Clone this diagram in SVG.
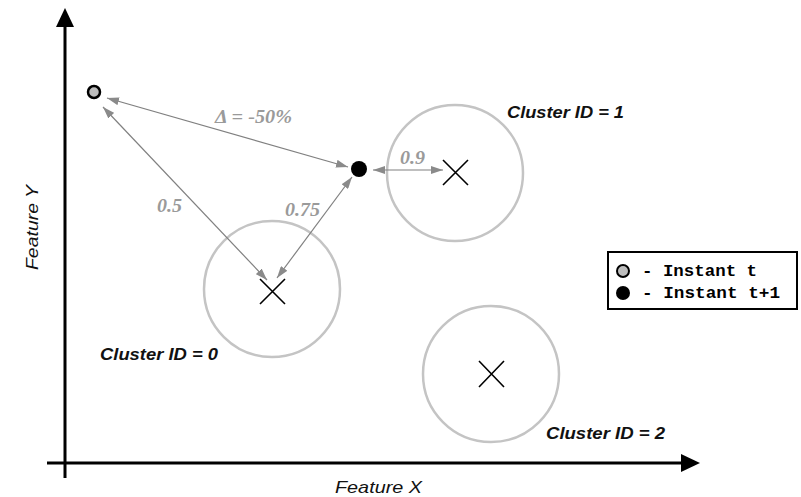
<svg xmlns="http://www.w3.org/2000/svg" width="801" height="497" viewBox="0 0 801 497">
<defs>
<marker id="gh" viewBox="0 0 12 8" refX="12" refY="4" markerWidth="12" markerHeight="8" markerUnits="userSpaceOnUse" orient="auto-start-reverse">
<path d="M0,0 L12,4 L0,8 Z" fill="#8a8a8a"/>
</marker>
<style>
.axis{stroke:#000;stroke-width:3;fill:none}
.ring{fill:none;stroke:#c4c4c4;stroke-width:2.5}
.cross{stroke:#000;stroke-width:1.6}
.conn{stroke:#808080;stroke-width:1.2;fill:none;marker-start:url(#gh);marker-end:url(#gh)}
.num{font-family:"Liberation Serif",serif;font-style:italic;font-weight:bold;font-size:18px;fill:#9a9a9a}
.clab{font-family:"Liberation Sans",Arial,sans-serif;font-style:italic;font-weight:bold;font-size:17px;fill:#111}
.axlab{font-family:"Liberation Sans",Arial,sans-serif;font-style:italic;font-size:17px;fill:#111}
.leg{font-family:"Liberation Mono","Courier New",monospace;font-weight:bold;font-size:16px;fill:#000}
</style>
</defs>
<rect width="801" height="497" fill="#fff"/>
<g id="axes">
<line class="axis" x1="65" y1="26" x2="65" y2="478"/>
<path d="M56,27 L65,8 L74,27 Z" fill="#000"/>
<line class="axis" x1="47" y1="463" x2="682" y2="463"/>
<path d="M681,454 L700,463 L681,472 Z" fill="#000"/>
<text class="axlab" x="335" y="493" textLength="87" lengthAdjust="spacingAndGlyphs">Feature X</text>
<text class="axlab" transform="translate(38,270) rotate(-90)" textLength="85" lengthAdjust="spacingAndGlyphs">Feature Y</text>
</g>
<g id="cluster0">
<circle class="ring" cx="272" cy="289" r="68"/>
<path class="cross" d="M260,279 L285,304 M285,279 L260,304"/>
<text class="clab" x="100" y="360" textLength="118" lengthAdjust="spacingAndGlyphs">Cluster ID = 0</text>
</g>
<g id="cluster1">
<circle class="ring" cx="455" cy="173" r="68"/>
<path class="cross" d="M443,160 L468,185 M468,160 L443,185"/>
<text class="clab" x="507" y="118" textLength="117" lengthAdjust="spacingAndGlyphs">Cluster ID = 1</text>
</g>
<g id="cluster2">
<circle class="ring" cx="491" cy="374" r="68"/>
<path class="cross" d="M479,361 L504,387 M504,361 L479,387"/>
<text class="clab" x="546" y="439" textLength="119" lengthAdjust="spacingAndGlyphs">Cluster ID = 2</text>
</g>
<g id="point-t">
<circle cx="94" cy="92" r="6" fill="#bdbdbd" stroke="#000" stroke-width="2.5"/>
</g>
<g id="point-t1">
<circle cx="359" cy="169" r="8" fill="#000"/>
</g>
<g id="connectors">
<line class="conn" x1="107" y1="98" x2="348" y2="167"/>
<line class="conn" x1="103" y1="107" x2="267" y2="280"/>
<line class="conn" x1="352" y1="177" x2="277" y2="278"/>
<line class="conn" x1="373" y1="170" x2="443" y2="170"/>
<text class="num" x="215" y="123" textLength="77" lengthAdjust="spacingAndGlyphs">Δ = -50%</text>
<text class="num" x="157" y="212" textLength="25" lengthAdjust="spacingAndGlyphs">0.5</text>
<text class="num" x="285" y="216" textLength="35" lengthAdjust="spacingAndGlyphs">0.75</text>
<text class="num" x="400" y="164" textLength="25" lengthAdjust="spacingAndGlyphs">0.9</text>
</g>
<g id="legend">
<rect x="608" y="252" width="189" height="57" fill="#fff" stroke="#000" stroke-width="2"/>
<circle cx="623" cy="271" r="6" fill="#bdbdbd" stroke="#000" stroke-width="2"/>
<circle cx="623" cy="293" r="7" fill="#000"/>
<text class="leg" x="642" y="276" textLength="115" lengthAdjust="spacingAndGlyphs">- Instant t</text>
<text class="leg" x="642" y="298" textLength="138" lengthAdjust="spacingAndGlyphs">- Instant t+1</text>
</g>
</svg>
